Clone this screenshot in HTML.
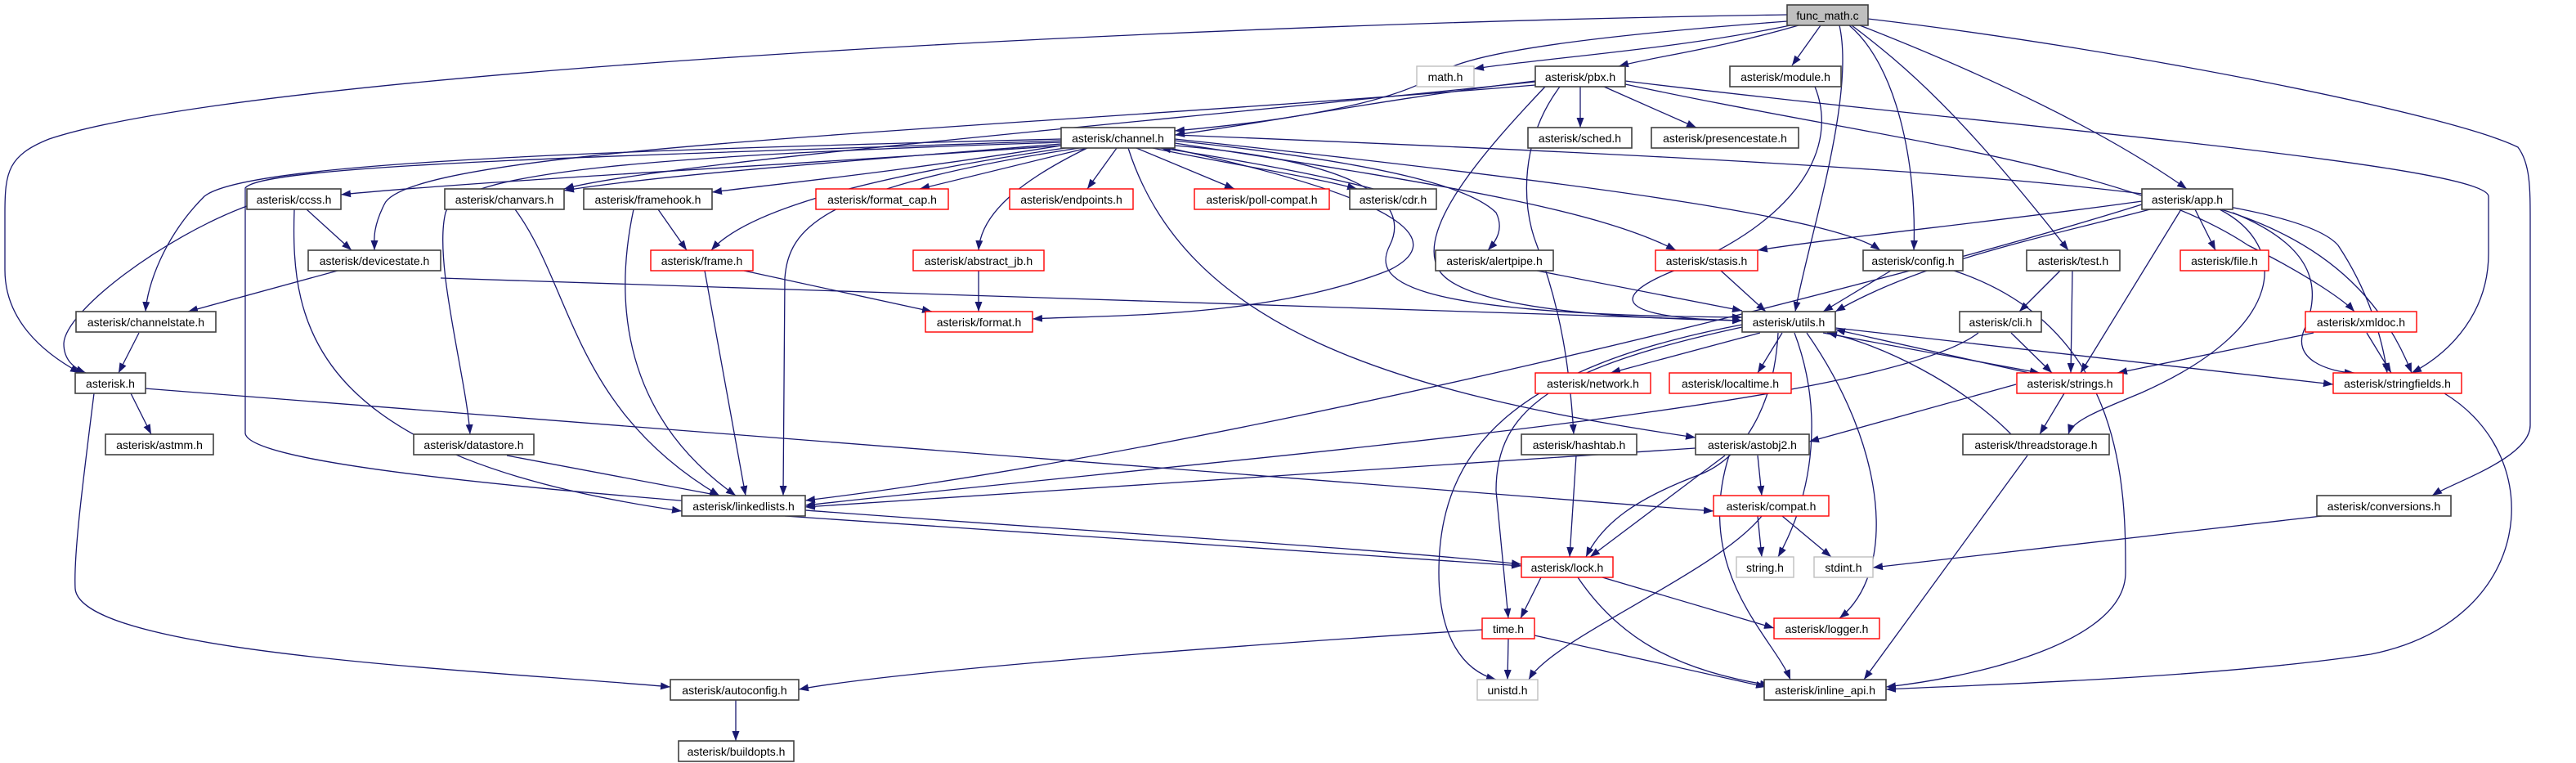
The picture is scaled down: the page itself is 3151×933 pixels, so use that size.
<!DOCTYPE html>
<html><head><meta charset="utf-8"><style>
html,body{margin:0;padding:0;background:#fff;}
svg{display:block}
text{font-family:"Liberation Sans",sans-serif;font-size:14px;fill:#000}
.e{fill:none;stroke:#191970;stroke-width:1.3}
.b{fill:#fff;stroke:#404040;stroke-width:1.6}
.r{fill:#fff;stroke:#ff0000;stroke-width:1.4}
.g{fill:#fff;stroke:#bfbfbf;stroke-width:1.4}
</style></head><body>
<svg width="3151" height="933" viewBox="0 0 3151 933" xmlns="http://www.w3.org/2000/svg">
<defs><marker id="a" markerUnits="userSpaceOnUse" markerWidth="13" markerHeight="10" refX="12" refY="5" orient="auto"><path d="M0,0.5 L12,5 L0,9.5 z" fill="#191970"/></marker></defs>
<g class="e" marker-end="url(#a)">
<path d="M2186,18 C1400,30 300,90 60,170 C10,190 6,210 6,260 L6,330 C6,390 50,430 98,456"/>
<path d="M2190,31 C2050,60 1900,70 1803,84"/>
<path d="M2200,31 C2100,60 2020,70 1980,81"/>
<path d="M2227,31 L2192,80"/>
<path d="M2186,26 C2000,40 1800,60 1760,90 C1700,130 1550,150 1437,160"/>
<path d="M2250,31 C2270,120 2210,300 2196,381"/>
<path d="M2262,31 C2320,80 2345,200 2341,306"/>
<path d="M2265,31 C2330,80 2400,140 2530,306"/>
<path d="M2275,31 C2400,80 2560,150 2675,231"/>
<path d="M2285,23 C2600,60 3000,140 3080,180 C3095,200 3095,230 3095,270 L3095,520 C3095,560 3000,590 2975,606"/>
<path d="M1933,106 L1933,156"/>
<path d="M1962,106 L2075,156"/>
<path d="M1878,99 C1700,120 1550,150 1437,165"/>
<path d="M1878,104 C1200,160 500,180 470,250 C455,280 458,295 458,306"/>
<path d="M1878,100 C1400,150 800,200 690,231"/>
<path d="M1908,106 C1860,170 1860,250 1880,300 C1910,380 1920,450 1925,531"/>
<path d="M1890,106 C1820,180 1730,280 1760,330 C1790,380 2000,390 2131,392"/>
<path d="M1988,99 C2400,150 3040,200 3044,240 L3044,310 C3044,380 3000,430 2950,456"/>
<path d="M1988,103 C2300,170 2600,200 2750,300 C2830,340 2870,370 2880,381"/>
<path d="M1298,178 C1000,200 600,220 417,238"/>
<path d="M1298,176 C1000,200 800,215 690,233"/>
<path d="M1298,178 C1100,210 950,225 871,235"/>
<path d="M1330,181 L1125,231"/>
<path d="M1366,181 L1330,231"/>
<path d="M1390,181 L1510,231"/>
<path d="M1410,181 C1500,200 1600,215 1660,231"/>
<path d="M1680,231 C1600,210 1480,190 1420,181"/>
<path d="M1330,181 C1250,220 1200,260 1197,306"/>
<path d="M1310,180 C1100,210 920,250 870,306"/>
<path d="M1437,172 C1700,200 1800,230 1830,260 C1840,280 1830,295 1820,306"/>
<path d="M1437,175 C1800,230 1960,260 2050,306"/>
<path d="M1437,170 C2000,230 2250,270 2300,306"/>
<path d="M1437,178 C1700,200 1720,260 1700,300 C1680,340 1700,385 2131,388"/>
<path d="M1437,165 C2300,200 2800,230 2860,300 C2900,360 2915,420 2920,456"/>
<path d="M1298,170 C700,185 300,200 250,240 C200,290 180,350 178,381"/>
<path d="M1298,172 C800,190 320,200 300,230 L300,530 C310,600 1500,650 1861,690"/>
<path d="M1298,174 C800,190 560,210 545,260 C530,320 570,460 575,531"/>
<path d="M1320,181 C1000,230 965,280 960,340 L958,606"/>
<path d="M1380,181 C1450,400 1700,480 2074,535"/>
<path d="M1430,181 C1750,250 1760,300 1700,330 C1550,390 1350,385 1263,390"/>
<path d="M375,256 L430,306"/>
<path d="M302,252 C200,290 80,380 78,420 C78,440 90,450 105,456"/>
<path d="M360,256 C355,400 380,560 834,625"/>
<path d="M630,256 C700,350 700,500 880,606"/>
<path d="M805,256 L840,306"/>
<path d="M775,256 C755,350 750,500 900,606"/>
<path d="M910,331 L1140,381"/>
<path d="M862,331 L912,606"/>
<path d="M1197,331 L1197,381"/>
<path d="M413,331 L230,381"/>
<path d="M539,340 L2131,392"/>
<path d="M170,407 L145,456"/>
<path d="M160,481 L185,531"/>
<path d="M115,481 C100,600 90,680 92,720 C100,800 600,820 820,840"/>
<path d="M177,475 L2096,625"/>
<path d="M1880,331 L2131,380"/>
<path d="M2105,331 L2160,381"/>
<path d="M2313,331 L2230,381"/>
<path d="M2390,331 C2600,400 2600,600 2600,700 C2600,790 2400,830 2307,840"/>
<path d="M2620,246 C2450,270 2250,290 2150,306"/>
<path d="M2630,256 C2500,290 2350,320 2245,381"/>
<path d="M2620,250 C2300,350 1500,550 985,612"/>
<path d="M2685,256 L2710,306"/>
<path d="M2668,256 L2545,456"/>
<path d="M2715,256 C2800,300 2800,400 2620,480 C2560,505 2535,515 2530,531"/>
<path d="M2731,260 C2830,300 2840,350 2820,400 C2800,440 2850,455 2880,456"/>
<path d="M2717,256 C2860,300 2920,380 2950,456"/>
<path d="M2520,331 L2470,381"/>
<path d="M2535,331 L2533,456"/>
<path d="M2460,407 L2510,456"/>
<path d="M2420,407 C2300,500 1500,560 985,618"/>
<path d="M2830,407 L2590,456"/>
<path d="M2895,407 L2925,456"/>
<path d="M2220,106 C2250,180 2200,270 2050,330 C1950,370 2000,390 2131,392"/>
<path d="M2153,407 L1970,456"/>
<path d="M2180,407 L2150,456"/>
<path d="M2230,407 L2495,456"/>
<path d="M2500,460 L2245,403"/>
<path d="M2245,401 L2854,470"/>
<path d="M2175,407 C2170,500 2130,560 2080,580 C2000,610 1960,640 1940,681"/>
<path d="M2131,400 C1900,450 1830,500 1830,600 L1845,756"/>
<path d="M2131,397 C1850,450 1760,550 1760,700 C1760,780 1790,820 1830,831"/>
<path d="M2210,407 C2310,550 2320,700 2250,756"/>
<path d="M2195,407 C2230,500 2220,600 2175,681"/>
<path d="M2466,470 L2213,540"/>
<path d="M2525,481 L2495,531"/>
<path d="M2460,531 C2400,470 2300,420 2235,407"/>
<path d="M2480,557 L2280,831"/>
<path d="M2074,548 L985,620"/>
<path d="M2110,557 L1945,681"/>
<path d="M2150,557 L2155,606"/>
<path d="M2115,557 C2070,700 2170,780 2190,831"/>
<path d="M1928,557 L1920,681"/>
<path d="M620,557 L880,606"/>
<path d="M960,631 L1861,692"/>
<path d="M2150,631 L2155,681"/>
<path d="M2180,631 L2240,681"/>
<path d="M2155,631 C2100,700 1900,780 1870,831"/>
<path d="M2840,631 L2291,694"/>
<path d="M1885,706 L1860,756"/>
<path d="M1960,706 L2170,768"/>
<path d="M1930,706 C1980,780 2050,820 2165,838"/>
<path d="M1813,770 C1500,790 1100,820 977,843"/>
<path d="M1845,781 L1844,831"/>
<path d="M1877,777 L2160,840"/>
<path d="M2990,481 C3120,560 3100,760 2900,800 C2700,830 2400,838 2307,843"/>
<path d="M900,856 L900,906"/>
</g>
<g>
<rect x="2186" y="6" width="99" height="25" fill="#bfbfbf" stroke="#404040" stroke-width="1.6"/><text x="2235.5" y="24" text-anchor="middle">func_math.c</text>
<rect class="g" x="1733" y="81" width="70" height="25"/><text x="1768" y="99" text-anchor="middle">math.h</text>
<rect class="b" x="1878" y="81" width="110" height="25"/><text x="1933" y="99" text-anchor="middle">asterisk/pbx.h</text>
<rect class="b" x="2116" y="81" width="136" height="25"/><text x="2184" y="99" text-anchor="middle">asterisk/module.h</text>
<rect class="b" x="1298" y="156" width="139" height="25"/><text x="1367.5" y="174" text-anchor="middle">asterisk/channel.h</text>
<rect class="b" x="1869" y="156" width="127" height="25"/><text x="1932.5" y="174" text-anchor="middle">asterisk/sched.h</text>
<rect class="b" x="2020" y="156" width="180" height="25"/><text x="2110" y="174" text-anchor="middle">asterisk/presencestate.h</text>
<rect class="b" x="302" y="231" width="115" height="25"/><text x="359.5" y="249" text-anchor="middle">asterisk/ccss.h</text>
<rect class="b" x="544" y="231" width="146" height="25"/><text x="617" y="249" text-anchor="middle">asterisk/chanvars.h</text>
<rect class="b" x="714" y="231" width="157" height="25"/><text x="792.5" y="249" text-anchor="middle">asterisk/framehook.h</text>
<rect class="r" x="998" y="231" width="162" height="25"/><text x="1079" y="249" text-anchor="middle">asterisk/format_cap.h</text>
<rect class="r" x="1235" y="231" width="151" height="25"/><text x="1310.5" y="249" text-anchor="middle">asterisk/endpoints.h</text>
<rect class="r" x="1461" y="231" width="165" height="25"/><text x="1543.5" y="249" text-anchor="middle">asterisk/poll-compat.h</text>
<rect class="b" x="1651" y="231" width="106" height="25"/><text x="1704" y="249" text-anchor="middle">asterisk/cdr.h</text>
<rect class="b" x="2620" y="231" width="111" height="25"/><text x="2675.5" y="249" text-anchor="middle">asterisk/app.h</text>
<rect class="b" x="377" y="306" width="162" height="25"/><text x="458" y="324" text-anchor="middle">asterisk/devicestate.h</text>
<rect class="r" x="796" y="306" width="125" height="25"/><text x="858.5" y="324" text-anchor="middle">asterisk/frame.h</text>
<rect class="r" x="1117" y="306" width="160" height="25"/><text x="1197" y="324" text-anchor="middle">asterisk/abstract_jb.h</text>
<rect class="b" x="1756" y="306" width="144" height="25"/><text x="1828" y="324" text-anchor="middle">asterisk/alertpipe.h</text>
<rect class="r" x="2025" y="306" width="125" height="25"/><text x="2087.5" y="324" text-anchor="middle">asterisk/stasis.h</text>
<rect class="b" x="2279" y="306" width="122" height="25"/><text x="2340" y="324" text-anchor="middle">asterisk/config.h</text>
<rect class="b" x="2479" y="306" width="114" height="25"/><text x="2536" y="324" text-anchor="middle">asterisk/test.h</text>
<rect class="r" x="2667" y="306" width="108" height="25"/><text x="2721" y="324" text-anchor="middle">asterisk/file.h</text>
<rect class="b" x="93" y="381" width="171" height="25"/><text x="178.5" y="399" text-anchor="middle">asterisk/channelstate.h</text>
<rect class="r" x="1132" y="381" width="131" height="25"/><text x="1197.5" y="399" text-anchor="middle">asterisk/format.h</text>
<rect class="b" x="2131" y="381" width="114" height="25"/><text x="2188" y="399" text-anchor="middle">asterisk/utils.h</text>
<rect class="b" x="2397" y="381" width="100" height="25"/><text x="2447" y="399" text-anchor="middle">asterisk/cli.h</text>
<rect class="r" x="2820" y="381" width="136" height="25"/><text x="2888" y="399" text-anchor="middle">asterisk/xmldoc.h</text>
<rect class="b" x="92" y="456" width="86" height="25"/><text x="135" y="474" text-anchor="middle">asterisk.h</text>
<rect class="r" x="1878" y="456" width="141" height="25"/><text x="1948.5" y="474" text-anchor="middle">asterisk/network.h</text>
<rect class="r" x="2042" y="456" width="149" height="25"/><text x="2116.5" y="474" text-anchor="middle">asterisk/localtime.h</text>
<rect class="r" x="2467" y="456" width="130" height="25"/><text x="2532" y="474" text-anchor="middle">asterisk/strings.h</text>
<rect class="r" x="2854" y="456" width="157" height="25"/><text x="2932.5" y="474" text-anchor="middle">asterisk/stringfields.h</text>
<rect class="b" x="129" y="531" width="132" height="25"/><text x="195" y="549" text-anchor="middle">asterisk/astmm.h</text>
<rect class="b" x="506" y="531" width="147" height="25"/><text x="579.5" y="549" text-anchor="middle">asterisk/datastore.h</text>
<rect class="b" x="1861" y="531" width="141" height="25"/><text x="1931.5" y="549" text-anchor="middle">asterisk/hashtab.h</text>
<rect class="b" x="2074" y="531" width="139" height="25"/><text x="2143.5" y="549" text-anchor="middle">asterisk/astobj2.h</text>
<rect class="b" x="2401" y="531" width="179" height="25"/><text x="2490.5" y="549" text-anchor="middle">asterisk/threadstorage.h</text>
<rect class="b" x="834" y="606" width="151" height="25"/><text x="909.5" y="624" text-anchor="middle">asterisk/linkedlists.h</text>
<rect class="r" x="2096" y="606" width="141" height="25"/><text x="2166.5" y="624" text-anchor="middle">asterisk/compat.h</text>
<rect class="b" x="2834" y="606" width="164" height="25"/><text x="2916" y="624" text-anchor="middle">asterisk/conversions.h</text>
<rect class="r" x="1861" y="681" width="112" height="25"/><text x="1917" y="699" text-anchor="middle">asterisk/lock.h</text>
<rect class="g" x="2124" y="681" width="70" height="25"/><text x="2159" y="699" text-anchor="middle">string.h</text>
<rect class="g" x="2219" y="681" width="72" height="25"/><text x="2255" y="699" text-anchor="middle">stdint.h</text>
<rect class="r" x="1813" y="756" width="64" height="25"/><text x="1845" y="774" text-anchor="middle">time.h</text>
<rect class="r" x="2170" y="756" width="129" height="25"/><text x="2234.5" y="774" text-anchor="middle">asterisk/logger.h</text>
<rect class="b" x="820" y="831" width="157" height="25"/><text x="898.5" y="849" text-anchor="middle">asterisk/autoconfig.h</text>
<rect class="g" x="1807" y="831" width="74" height="25"/><text x="1844" y="849" text-anchor="middle">unistd.h</text>
<rect class="b" x="2158" y="831" width="149" height="25"/><text x="2232.5" y="849" text-anchor="middle">asterisk/inline_api.h</text>
<rect class="b" x="830" y="906" width="141" height="25"/><text x="900.5" y="924" text-anchor="middle">asterisk/buildopts.h</text>
</g>
</svg>
</body></html>
